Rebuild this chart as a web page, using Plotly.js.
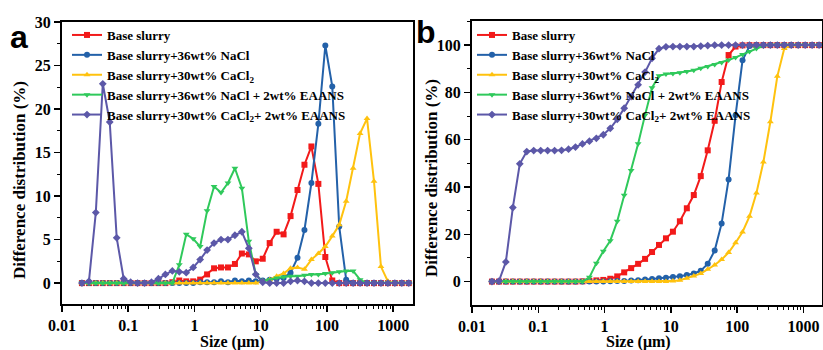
<!DOCTYPE html>
<html>
<head>
<meta charset="utf-8">
<script src="https://cdn.plot.ly/plotly-3.0.1.min.js"></script>
<style>html,body{margin:0;padding:0;background:#fff;}#chart{width:823px;height:350px;}</style>
</head>
<body>
<div id="chart"></div>
<script>
// Particle size classes (um)
const sizes = [0.02,0.0255,0.0324,0.0413,0.0526,0.067,0.0853,0.1087,0.1384,0.1762,0.2244,0.2858,0.3639,0.4634,0.5902,0.7516,0.9572,1.219,1.552,1.977,2.518,3.206,4.083,5.2,6.622,8.433,10.74,13.68,17.42,22.18,28.25,35.97,45.81,58.34,74.3,94.62,120.5,153.5,195.4,248.9,317,403.6,514,654.6,833.7,1062,1352,1722];

const seriesNames = ["Base slurry","Base slurry+36wt% NaCl","Base slurry+30wt% CaCl<sub>2</sub>","Base slurry+36wt% NaCl + 2wt% EAANS","Base slurry+30wt% CaCl<sub>2</sub>+ 2wt% EAANS"];

// Panel a: differential distribution (%)
const baseA   = [0,0,0,0,0,0,0,0,0,0,0,0,0,0.1,0.3,0.2,0.2,0.4,1.0,1.7,1.8,1.8,2.2,3.4,3.3,2.5,2.8,4.6,5.9,5.6,7.7,10.7,13.6,15.7,11.4,3.0,0.3,0,0,0,0,0,0,0,0,0,0,0];
const naclA   = [0,0,0,0,0,0,0,0,0,0,0,0,0,0,0,0,0,0.1,0.1,0.1,0.2,0.1,0.3,0.2,0.3,0.2,0.3,0.4,0.5,0.6,1.2,2.9,6.1,11.5,18.3,27.3,22.6,6.5,0.4,0,0,0,0,0,0,0,0,0];
const caclA   = [0,0,0,0,0,0,0,0,0,0,0,0,0,0,0,0,0,0,0,0,0,0,0,0,0,0,0.2,0.4,0.8,1.1,1.7,1.8,1.6,2.7,3.4,4.2,5.4,6.7,9.4,13.2,17.2,18.9,11.7,1.9,0.2,0,0,0];
const naclEA  = [0,0,0,0,0,0,0,0,0,0,0,0,0,0,2.1,5.6,5.1,4.2,8.3,11.1,10.4,11.5,13.2,10.9,4.8,1.0,0.2,0.4,0.6,0.7,0.8,0.8,0.9,1.0,1.0,1.1,1.2,1.3,1.4,1.4,0.4,0,0,0,0,0,0,0];
const caclEA  = [0,0.2,8.1,22.9,18.5,5.2,0.5,0.1,0,0,0.1,0.5,1.0,1.4,1.3,1.2,1.8,2.7,3.8,4.6,5.0,5.0,5.5,5.9,4.0,1.0,0.1,0,0,0,0.2,0.3,0.2,0,0,0,0,0,0,0,0,0,0,0,0,0,0,0];

// Panel b: cumulative distribution (%)
const baseB   = [0,0,0,0,0,0,0,0,0,0,0,0,0,0.1,0.3,0.5,0.7,1.2,2.2,3.9,5.7,7.5,9.6,12.5,15.5,18.3,21.1,25.5,31.0,36.6,44.6,55.5,68.0,84.4,95.8,99.4,99.9,100,100,100,100,100,100,100,100,100,100,100];
const naclB   = [0,0,0,0,0,0,0,0,0,0,0,0,0,0,0,0,0,0.1,0.2,0.3,0.5,0.6,0.9,1.1,1.4,1.6,1.9,2.3,2.8,3.4,4.6,7.5,13.1,24.6,43.2,70.3,93.6,99.6,100,100,100,100,100,100,100,100,100,100];
const caclB   = [0,0,0,0,0,0,0,0,0,0,0,0,0,0,0,0,0,0,0,0,0,0,0,0,0,0,0.2,0.6,1.4,2.4,3.4,5.2,7.0,9.3,12.3,16.4,21.0,27.6,37.5,50.6,67.6,86.8,98.6,99.8,100,100,100,100];
const naclEB  = [0,0,0,0,0,0,0,0,0,0,0,0,0,0,1.8,7.8,12.8,17.3,25.5,36.5,47.0,58.3,70.5,82.0,87.0,87.8,88.0,88.3,88.8,89.4,90.2,91.0,91.8,92.7,93.7,94.8,96.0,97.3,98.6,99.7,100,100,100,100,100,100,100,100];
const caclEB  = [0,0.2,8.3,31.3,49.8,55.0,55.4,55.4,55.4,55.4,55.5,56.0,56.9,58.2,59.4,60.6,62.1,64.8,68.6,73.3,78.2,83.2,88.6,94.4,98.5,99.3,99.4,99.4,99.4,99.4,99.6,99.8,100,100,100,100,100,100,100,100,100,100,100,100,100,100,100,100];

const xTickVals = [0.01,0.1,1,10,100,1000];
const xTickText = ["0.01","0.1","1","10","100","1000"];

const colors  = ['#F21A1A','#2361A9','#FFC20E','#2FC95B','#5C58A8'];
const symbols = ['square','circle','triangle-up','triangle-down','diamond'];

const panelA = [baseA, naclA, caclA, naclEA, caclEA];
const panelB = [baseB, naclB, caclB, naclEB, caclEB];

const traces = [];
function addPanel(data, xa, ya, leg, tag){
  data.forEach((ys, i) => {
    traces.push({
      x: sizes, y: ys, xaxis: xa, yaxis: ya,
      type: 'scatter', mode: 'lines+markers',
      name: seriesNames[i], legend: leg, legendgroup: tag + i,
      line: {color: colors[i], width: 2},
      marker: {symbol: symbols[i], size: 6, color: colors[i]},
      cliponaxis: true
    });
  });
}
addPanel(panelA, 'x', 'y', 'legend', 'a');
addPanel(panelB, 'x2', 'y2', 'legend2', 'b');

const serif = '"Times New Roman", "Liberation Serif", Tinos, "DejaVu Serif", "Noto Serif", serif';
const sans = '"Liberation Sans", Arial, sans-serif';
const tickFont = {family: serif, size: 16, color: '#000', weight: 'bold'};
function xAxis(domain, range, anchor){
  return {type:'log', domain: domain, range: range, anchor: anchor,
    tickmode:'array', tickvals: xTickVals, ticktext: xTickText,
    ticks:'outside', ticklen:6, tickwidth:1.5, tickcolor:'#000',
    minor:{dtick:'D1', ticks:'outside', ticklen:3, tickwidth:1, tickcolor:'#000', showgrid:false},
    showline:true, linewidth:2, linecolor:'#000', mirror:true,
    showgrid:false, zeroline:false, tickfont: tickFont, automargin:false};
}
function yAxis(domain, range, dtick, anchor){
  return {domain: domain, range: range, anchor: anchor, tickmode:'linear', tick0:0, dtick: dtick,
    ticks:'outside', ticklen:6, tickwidth:1.5, tickcolor:'#000',
    minor:{dtick: dtick/2, tick0:0, ticks:'outside', ticklen:3, tickwidth:1, tickcolor:'#000', showgrid:false},
    showline:true, linewidth:2, linecolor:'#000', mirror:true,
    showgrid:false, zeroline:false, tickfont: tickFont, automargin:false};
}
const H = 350, W = 823;
const legendFont = {family: serif, size: 13, color:'#000', weight:'bold'};
const layout = {
  width: W, height: H, margin:{l:0,r:0,t:0,b:0},
  paper_bgcolor:'#fff', plot_bgcolor:'#fff', showlegend:true,
  font:{family: serif, color:'#000'},
  xaxis:  xAxis([62/W, 413/W], [-2, 3.3], 'y'),
  yaxis:  yAxis([(H-304)/H, (H-22)/H], [-2.4, 30], 5, 'x'),
  xaxis2: xAxis([472/W, 822/W], [-2, 3.28], 'y2'),
  yaxis2: yAxis([(H-305)/H, (H-21)/H], [-9.9, 110.2], 20, 'x2'),
  legend:  {x: 67/W, y: (H-20)/H, xanchor:'left', yanchor:'top', bgcolor:'rgba(0,0,0,0)', font: legendFont, tracegroupgap: 0, itemwidth: 30},
  legend2: {x: 472/W, y: (H-20)/H, xanchor:'left', yanchor:'top', bgcolor:'rgba(0,0,0,0)', font: legendFont, tracegroupgap: 0, itemwidth: 30},
  annotations: [
    {text:'a', xref:'paper', yref:'paper', x: 19/W, y: (H-37)/H, xanchor:'center', yanchor:'middle', showarrow:false,
     font:{family: sans, size:32, weight:'bold', color:'#000'}},
    {text:'b', xref:'paper', yref:'paper', x: 426/W, y: (H-32)/H, xanchor:'center', yanchor:'middle', showarrow:false,
     font:{family: sans, size:32, weight:'bold', color:'#000'}},
    {text:'Size (μm)', xref:'paper', yref:'paper', x: 232/W, y: (H-342)/H, xanchor:'center', yanchor:'middle', showarrow:false,
     font:{family: serif, size:16, weight:'bold', color:'#000'}},
    {text:'Size (μm)', xref:'paper', yref:'paper', x: 638/W, y: (H-342)/H, xanchor:'center', yanchor:'middle', showarrow:false,
     font:{family: serif, size:16, weight:'bold', color:'#000'}},
    {text:'Difference distribution (%)', xref:'paper', yref:'paper', x: 20/W, y: (H-180)/H, xanchor:'center', yanchor:'middle', textangle:-90, showarrow:false,
     font:{family: serif, size:17, weight:'bold', color:'#000'}},
    {text:'Difference distribution (%)', xref:'paper', yref:'paper', x: 431/W, y: (H-178)/H, xanchor:'center', yanchor:'middle', textangle:-90, showarrow:false,
     font:{family: serif, size:17, weight:'bold', color:'#000'}}
  ]
};
Plotly.newPlot('chart', traces, layout, {staticPlot:true, displayModeBar:false});
</script>
</body>
</html>
